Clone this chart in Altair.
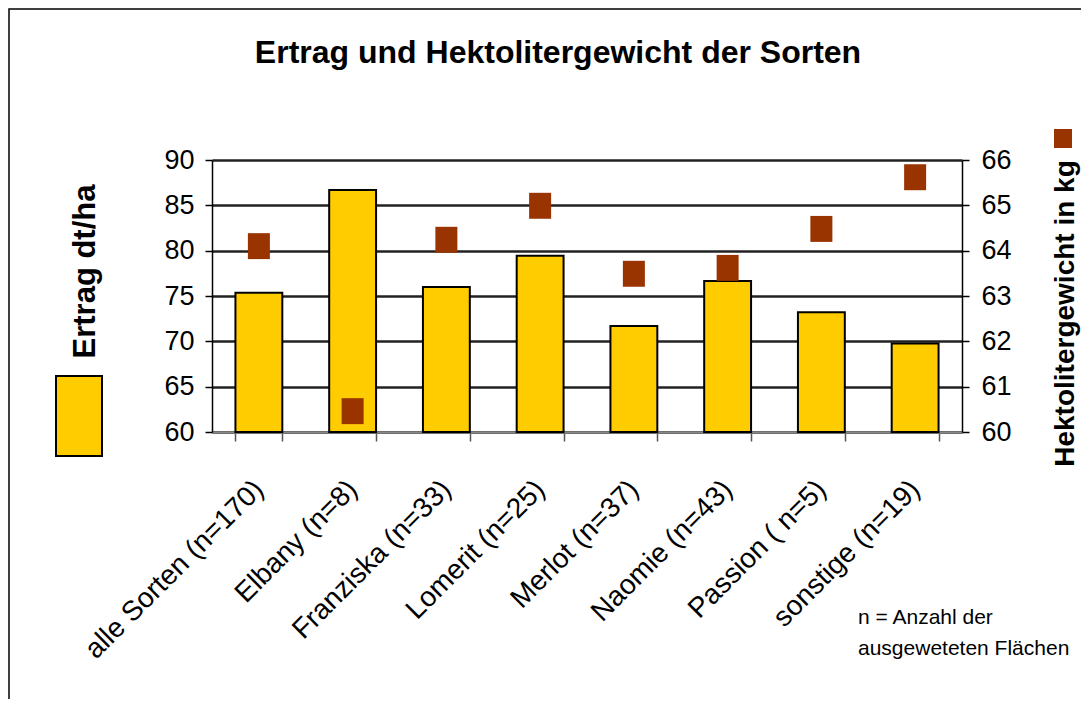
import altair as alt
import pandas as pd

categories = ["alle Sorten (n=170)", "Elbany (n=8)", "Franziska (n=33)", "Lomerit (n=25)",
              "Merlot (n=37)", "Naomie (n=43)", "Passion ( n=5)", "sonstige (n=19)"]
ertrag = [75.35, 86.7, 76.0, 79.45, 71.7, 76.65, 73.2, 69.75]
hektoliter = [64.1, 60.46, 64.24, 64.99, 63.49, 63.62, 64.48, 65.62]
note_lines = ["n = Anzahl der", "ausgeweteten Flächen"]
title_text = "Ertrag und Hektolitergewicht der Sorten"

df = pd.DataFrame({"Sorte": categories, "Ertrag": ertrag, "HL": hektoliter})
one = pd.DataFrame({"title": [title_text], "note": [note_lines]})

FONT = "Liberation Sans"
W, H = 750, 272

xenc = alt.X("Sorte:N", sort=None, title=None,
             scale=alt.Scale(paddingInner=0.5, paddingOuter=0.25),
             axis=alt.Axis(labelAngle=315, labelAlign="right", labelBaseline="middle",
                           labelFontSize=28, labelPadding=44, labelColor="black",
                           labelLimit=0, labelOverlap=False,
                           tickBand="extent", tickSize=9, tickColor="#555", tickWidth=1.5,
                           domainColor="#888", domainWidth=2, labelFont=FONT))

frame = alt.Chart(one).mark_rect(fill="transparent", stroke="black", strokeWidth=1.5).encode(
    x=alt.value(-203), x2=alt.value(1000), y=alt.value(-151), y2=alt.value(800))

bars = alt.Chart(df).mark_bar(color="#FFCC00", stroke="black", strokeWidth=2).encode(
    x=xenc,
    y=alt.Y("Ertrag:Q", scale=alt.Scale(domain=[60, 90], zero=False, nice=False),
            axis=alt.Axis(orient="left", values=[60, 65, 70, 75, 80, 85, 90],
                          grid=True, gridColor="#222", gridWidth=2.5,
                          tickSize=7, tickColor="black", tickWidth=1.5,
                          domainColor="black", domainWidth=1.5,
                          labelFontSize=27, labelPadding=11, labelColor="black", labelFont=FONT,
                          title="Ertrag dt/ha", titleFontSize=31, titleFontWeight="bold",
                          titleFont=FONT, titleColor="black",
                          titleAngle=270, titleX=-118, titleY=111,
                          titleAlign="center", titleBaseline="alphabetic")),
    y2=alt.Y2(datum=60),
)

points = alt.Chart(df).mark_point(
    shape="M-1,-1.18L1,-1.18L1,1.18L-1,1.18Z", filled=True, size=484,
    color="#993300", opacity=1).encode(
    x=alt.X("Sorte:N", sort=None),
    y=alt.Y("HL:Q", scale=alt.Scale(domain=[60, 66], zero=False, nice=False),
            axis=alt.Axis(orient="right", values=[60, 61, 62, 63, 64, 65, 66],
                          grid=False, tickSize=7, tickColor="black", tickWidth=1.5,
                          domainColor="black", domainWidth=1.5,
                          labelFontSize=27, labelPadding=12, labelColor="black", labelFont=FONT,
                          title="Hektolitergewicht in kg", titleFontSize=28,
                          titleFontWeight="bold", titleFont=FONT, titleColor="black",
                          titleAngle=270, titleX=111, titleY=153,
                          titleAlign="center", titleBaseline="alphabetic")),
)

leg_bar = alt.Chart(one).mark_rect(fill="#FFCC00", stroke="black", strokeWidth=2).encode(
    x=alt.value(-156), x2=alt.value(-110), y=alt.value(216), y2=alt.value(296))
leg_pt = alt.Chart(one).mark_rect(fill="#993300").encode(
    x=alt.value(842), x2=alt.value(860), y=alt.value(-31), y2=alt.value(-12))

note = alt.Chart(one).mark_text(align="left", baseline="alphabetic", fontSize=21,
                                fontWeight="normal", font=FONT, lineHeight=31,
                                color="black").encode(
    x=alt.value(646), y=alt.value(464), text="note")

title = alt.Chart(one).mark_text(align="center", baseline="alphabetic", fontSize=32,
                                 fontWeight="bold", font=FONT, color="black").encode(
    x=alt.value(346), y=alt.value(-97), text="title:N")

chart = alt.layer(frame, bars, points, leg_bar, leg_pt, note, title).resolve_scale(
    y="independent").properties(
    width=W, height=H,
    autosize=alt.AutoSizeParams(type="none"),
    padding={"left": 204, "top": 152, "right": 119, "bottom": 267},
).configure_view(stroke=None).configure(background="white")

chart.save("out.html", embed_options={"renderer": "svg", "actions": False})
